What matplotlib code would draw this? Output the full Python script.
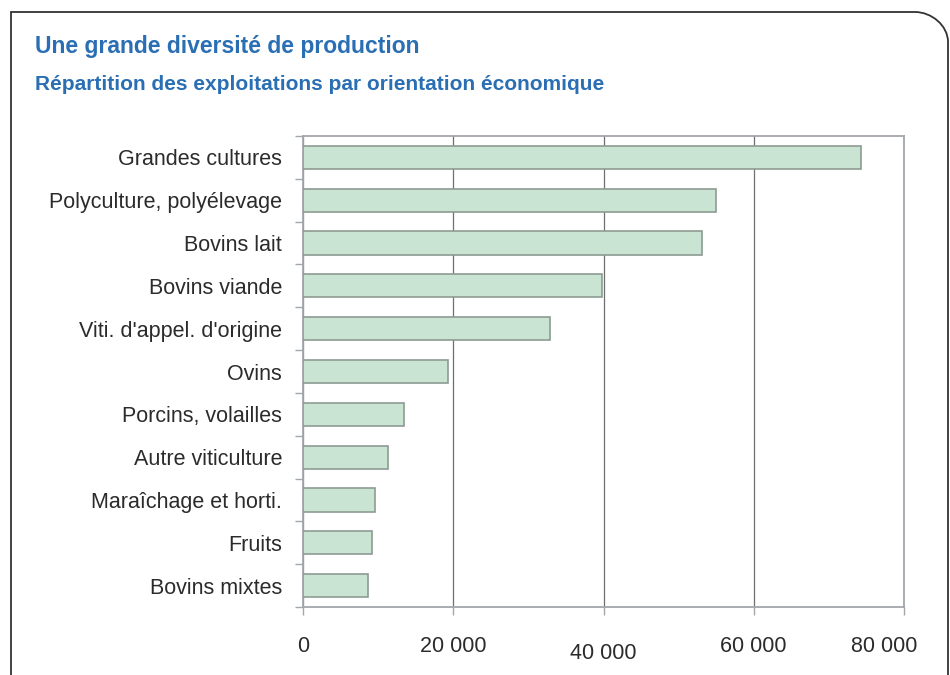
import matplotlib
matplotlib.use("Agg")
import matplotlib.pyplot as plt
import matplotlib.transforms as mtransforms
from matplotlib.patches import PathPatch
from matplotlib.path import Path
from matplotlib.ticker import FixedLocator, FuncFormatter

# --------------------------------------------------------------------------- #
#  Data
# --------------------------------------------------------------------------- #
categories = [
    "Grandes cultures",
    "Polyculture, polyélevage",
    "Bovins lait",
    "Bovins viande",
    "Viti. d'appel. d'origine",
    "Ovins",
    "Porcins, volailles",
    "Autre viticulture",
    "Maraîchage et horti.",
    "Fruits",
    "Bovins mixtes",
]
values = [74300, 55000, 53100, 39800, 32900, 19300, 13400, 11300, 9600, 9200, 8700]
xticks = [0, 20000, 40000, 60000, 80000]

TITLE = "Une grande diversité de production"
SUBTITLE = "Répartition des exploitations par orientation économique"

BLUE = "#2a6fb4"
BAR = "#c9e4d3"
BAR_EDGE = "#8c9b92"
GRID = "#6e6e6e"
SPINE = "#a3a6aa"
TEXT = "#2b2b2b"

W, H = 950, 675
plt.rcParams["font.family"] = ["Liberation Sans", "DejaVu Sans"]

fig = plt.figure(figsize=(W / 100, H / 100), dpi=100)


def fx(px):
    return px / W


def fy(py):
    return 1 - py / H


# outer frame: square top-left, rounded top-right, runs off the page
k = 0.55
verts = [(fx(11), fy(H + 5)), (fx(11), fy(12)), (fx(915), fy(12)),
         (fx(915 + 30 * k), fy(12)), (fx(948), fy(42 - 30 * k)), (fx(948), fy(42)),
         (fx(948), fy(H + 5))]
codes = [Path.MOVETO, Path.LINETO, Path.LINETO,
         Path.CURVE4, Path.CURVE4, Path.CURVE4, Path.LINETO]
fig.patches.append(PathPatch(Path(verts, codes), transform=fig.transFigure,
                             fill=False, edgecolor="#333333", linewidth=1.3))

fig.text(fx(35), fy(47), TITLE, color=BLUE, fontsize=16.5, fontweight="bold",
         va="center", ha="left")
fig.text(fx(35), fy(84), SUBTITLE, color=BLUE, fontsize=15, fontweight="bold",
         va="center", ha="left")

ax = fig.add_axes([fx(303), fy(607), (904 - 303) / W, (607 - 136) / H])
ypos = list(range(len(categories)))
ax.barh(ypos, values, height=0.54, color=BAR, edgecolor=BAR_EDGE,
        linewidth=1.2, zorder=3)

ax.set_xlim(0, 80000)
ax.set_ylim(len(categories) - 0.5, -0.5)

ax.set_yticks(ypos)
ax.set_yticklabels(categories, fontsize=15.5, color=TEXT)
ax.tick_params(axis="y", which="major", length=0, pad=15)
ax.yaxis.set_minor_locator(FixedLocator([i + 0.5 for i in range(-1, len(categories))]))
ax.tick_params(axis="y", which="minor", length=6, width=1, color=SPINE, direction="out")

ax.set_xticks(xticks)
ax.xaxis.set_major_formatter(FuncFormatter(lambda v, _: f"{int(v):,}".replace(",", " ")))
ax.tick_params(axis="x", length=6, width=1, color=SPINE, direction="out",
               pad=15, labelsize=15.5, labelcolor=TEXT)

# the scanned original has two x labels slightly out of line
nudges = {40000: (0, -7), 80000: (-20, 0)}
for lbl, val in zip(ax.get_xticklabels(), xticks):
    dx, dy = nudges.get(val, (0, 0))
    if dx or dy:
        lbl.set_transform(lbl.get_transform() +
                          mtransforms.ScaledTranslation(dx / 100, dy / 100, fig.dpi_scale_trans))

ax.grid(axis="x", color=GRID, linewidth=0.9, zorder=0)
ax.grid(axis="y", visible=False)
for side in ax.spines.values():
    side.set_color(SPINE)
    side.set_linewidth(1.3)

fig.savefig("out.png", dpi=100)
